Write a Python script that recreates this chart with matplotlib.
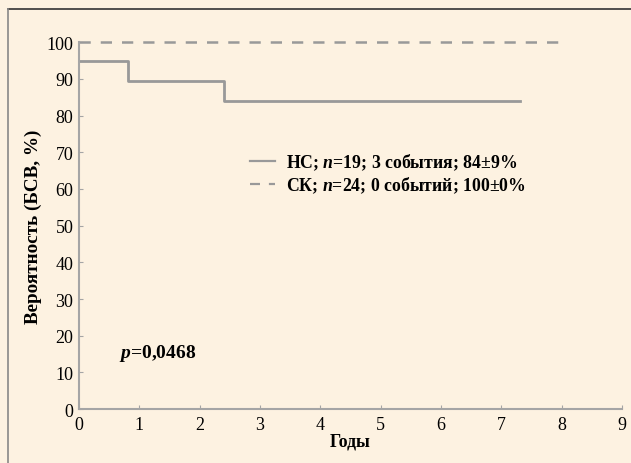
import matplotlib.pyplot as plt
from matplotlib.lines import Line2D

plt.rcParams['font.family'] = ['Liberation Serif', 'DejaVu Serif']
plt.rcParams['mathtext.fontset'] = 'custom'
plt.rcParams['mathtext.bfit'] = 'Liberation Serif:italic:bold'
plt.rcParams['mathtext.it'] = 'Liberation Serif:italic'
plt.rcParams['mathtext.rm'] = 'Liberation Serif'

# data
nc_time = [0, 0.82, 2.4, 7.3]
nc_surv = [95, 89.5, 84, 84]
sk_time = [0, 7.95]
sk_surv = [100, 100]
nc_label = r"НС; $\mathbfit{n}$=19; 3 события; 84±9%"
sk_label = r"СК; $\mathbfit{n}$=24; 0 событий; 100±0%"
p_text = r"$\mathbfit{p}$=0,0468"

bg = '#fdf2e1'
gray = '#999999'

fig = plt.figure(figsize=(6.31, 4.64), dpi=100, facecolor=bg)
ax = fig.add_axes([0.125, 0.116, 0.861, 0.791])
ax.set_facecolor(bg)

ax.step(nc_time, nc_surv, where='post', color=gray, lw=2.0, clip_on=False, label=nc_label)
ax.plot(sk_time, sk_surv, color=gray, lw=1.8, ls=(0, (4.5, 4)), clip_on=False, label=sk_label)

ax.set_xlim(0, 9)
ax.set_ylim(0, 100)
ax.set_xticks(range(0, 10))
ax.set_yticks(range(0, 101, 10))
for s in ['top', 'right']:
    ax.spines[s].set_visible(False)
for s in ['left', 'bottom']:
    ax.spines[s].set_color('#a5a5a5')
    ax.spines[s].set_linewidth(1.5)
ax.tick_params(direction='in', length=3, color='#a5a5a5', labelsize=13)
ax.tick_params(axis='y', pad=4)
ax.tick_params(axis='x', pad=5)

ax.set_xlabel('Годы', fontsize=12.8, fontweight='bold')
ax.xaxis.set_label_coords(0.5, -0.063)
ax.set_ylabel('Вероятность (БСВ, %)', fontsize=13.8, fontweight='bold')
ax.yaxis.set_label_coords(-0.068, 0.5)

ax.text(0.66, 15.5, p_text, fontsize=14, fontweight='bold', va='center', ha='left')

leg = ax.legend(loc='upper left', bbox_to_anchor=(0.285, 0.745), frameon=False,
                handlelength=1.4, handletextpad=0.65, labelspacing=0.1,
                prop={'size': 12.8, 'weight': 'bold'})
for h in leg.legend_handles:
    h.set_linewidth(1.6)

# outer frame
fig.add_artist(Line2D([8 / 631, 1], [1 - 10 / 464, 1 - 10 / 464], transform=fig.transFigure, color='#333333', lw=1.2))
fig.add_artist(Line2D([8 / 631, 8 / 631], [0, 1 - 10 / 464], transform=fig.transFigure, color='#888888', lw=1.2))

fig.savefig('out.png', dpi=100, facecolor=bg)
